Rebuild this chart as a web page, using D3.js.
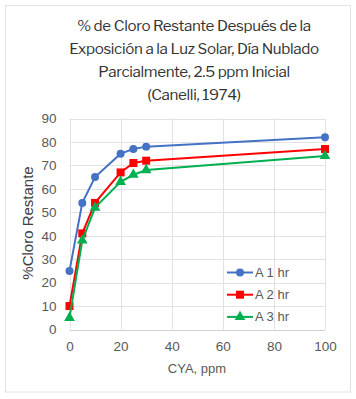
<!DOCTYPE html>
<html><head><meta charset="utf-8">
<script src="https://cdn.jsdelivr.net/npm/d3@7"></script>
<style>
body{margin:0;background:#fff;}
svg{display:block;}
</style></head>
<body><svg id="c" width="356" height="399"></svg>
<script>
const titleLines = ["% de Cloro Restante Después de la","Exposición a la Luz Solar, Día Nublado","Parcialmente, 2.5 ppm Inicial","(Canelli, 1974)"];
const cya = [0,5,10,20,25,30,100];
const seriesNames = ["A 1 hr","A 2 hr","A 3 hr"];
const a1 = [25,54,65,75,77,78,82];
const a2 = [10,41,54,67,71,72,77];
const a3 = [5,38,52,63,66,68,74];
const xTicks = [0,20,40,60,80,100];
const yTicks = [0,10,20,30,40,50,60,70,80,90];
const xTitle = "CYA, ppm";
const yTitle = "%Cloro Restante";

const colors = ["#4472C4","#FF0000","#00B050"];
const shapes = [d3.symbolCircle,d3.symbolSquare,d3.symbolTriangle];
const sizes = [50,64,50];
const svg = d3.select("#c");
svg.append("rect").attr("x",5.5).attr("y",5.5).attr("width",345).attr("height",386.5)
  .attr("fill","#fff").attr("stroke","#e3e3e3");

const tf = "'Libre Franklin','Roboto','Open Sans',sans-serif";
svg.append("g").selectAll("text").data(titleLines).join("text")
  .attr("x",194).attr("y",(d,i)=>31+i*23)
  .attr("text-anchor","middle").attr("font-family",tf).attr("font-size",15.2)
  .attr("letter-spacing",-0.35)
  .attr("fill","#333").text(d=>d);

const x = d3.scaleLinear().domain([0,100]).range([69.5,325]);
const y = d3.scaleLinear().domain([0,90]).range([329.5,118.5]);

const grid = svg.append("g");
grid.selectAll("line.h").data(yTicks).join("line").attr("class","h")
  .attr("x1",x(0)).attr("x2",x(100)).attr("y1",d=>Math.round(y(d))+0.5).attr("y2",d=>Math.round(y(d))+0.5)
  .attr("stroke",d=>d===0?"#d0d0d0":"#e2e2e2").attr("stroke-width",1);
grid.selectAll("line.v").data(xTicks).join("line").attr("class","v")
  .attr("y1",y(0)).attr("y2",y(90)).attr("x1",d=>Math.round(x(d))+0.5).attr("x2",d=>Math.round(x(d))+0.5)
  .attr("stroke","#e2e2e2").attr("stroke-width",1);

const af = "'Liberation Sans','Open Sans',sans-serif";
const xAxis = d3.axisBottom(x).tickValues(xTicks).tickSize(0).tickPadding(12);
const gx = svg.append("g").attr("transform",`translate(0,${y(0)})`).call(xAxis);
gx.select(".domain").remove();
gx.selectAll("text").attr("font-family",af).attr("font-size",13.5).attr("fill","#595959");

const yAxis = d3.axisLeft(y).tickValues(yTicks).tickSize(0).tickPadding(13);
const gy = svg.append("g").attr("transform",`translate(${x(0)},0)`).call(yAxis);
gy.select(".domain").remove();
gy.selectAll("text").attr("font-family",af).attr("font-size",13.5).attr("fill","#595959");

svg.append("text").attr("x",197).attr("y",373).attr("text-anchor","middle")
  .attr("font-family",af).attr("font-size",13).attr("fill","#595959").text(xTitle);
svg.append("text").attr("transform","translate(33,223) rotate(-90)").attr("text-anchor","middle")
  .attr("font-family",af).attr("font-size",15).attr("fill","#404040").text(yTitle);

const data = [a1,a2,a3];
const line = d3.line().x((d,i)=>x(cya[i])).y(d=>y(d));
data.forEach((s,k)=>{
  const g = svg.append("g");
  g.append("path").datum(s).attr("d",line).attr("fill","none").attr("stroke",colors[k]).attr("stroke-width",2);
  g.selectAll("path.m").data(s).join("path").attr("class","m")
    .attr("transform",(d,i)=>`translate(${x(cya[i])},${y(d)})`)
    .attr("d",d3.symbol().type(shapes[k]).size(sizes[k])).attr("fill",colors[k]);
});

const leg = svg.append("g");
seriesNames.forEach((n,k)=>{
  const ly = 272.5 + k*22.2;
  leg.append("line").attr("x1",227).attr("x2",253).attr("y1",ly).attr("y2",ly).attr("stroke",colors[k]).attr("stroke-width",2);
  leg.append("path").attr("transform",`translate(240,${ly})`).attr("d",d3.symbol().type(shapes[k]).size(sizes[k])).attr("fill",colors[k]);
  leg.append("text").attr("x",255).attr("y",ly+4.5).attr("font-family",af).attr("font-size",13).attr("fill","#595959").text(n);
});
</script></body></html>
